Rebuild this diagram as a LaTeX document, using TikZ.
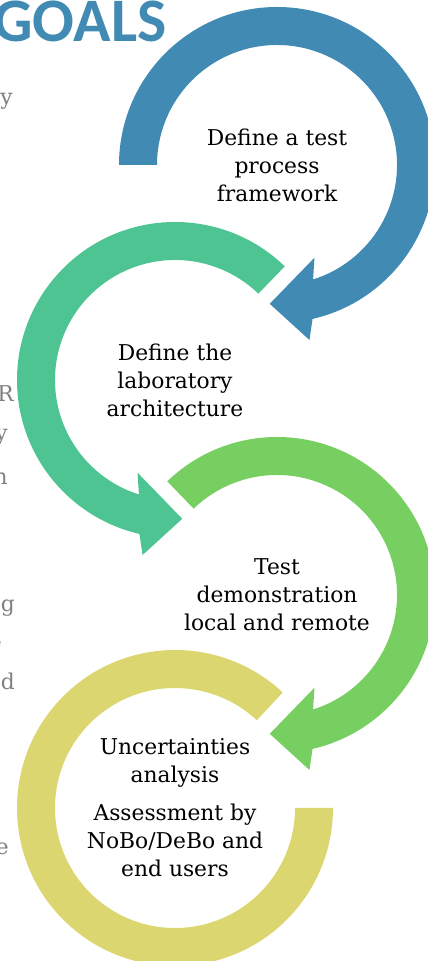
\documentclass[tikz,border=0pt]{standalone}
\usepackage{fontspec}
\usepackage{xcolor}
\usepackage{tikz}

\setmainfont{DejaVu Serif}
\newfontfamily\headfont{Carlito}

\definecolor{ringblue}{RGB}{65,138,179}
\definecolor{ringteal}{RGB}{77,196,146}
\definecolor{ringgreen}{RGB}{120,207,97}
\definecolor{ringyellow}{RGB}{219,214,112}
\definecolor{sidegray}{RGB}{128,128,128}

\tikzset{
    stagetext/.style={align=center, inner sep=0pt, font=\fontsize{15.5}{19.9}\selectfont},
    sidetext/.style={anchor=base east, inner sep=0pt, text=sidegray, font=\fontsize{15.5}{19.9}\selectfont}
}

\begin{document}
\begin{tikzpicture}[x=0.25mm, y=0.25mm]
            \useasboundingbox (0,0) rectangle (428,961);
            \clip (0,0) rectangle (428,961);

            % ring centres
            \coordinate (ca) at (277,796);
            \coordinate (cb) at (175,581);
            \coordinate (cc) at (277,366);
            \coordinate (cd) at (175,153);

            % first ring, clockwise, head at the bottom
            \fill[ringblue, shift={(ca)}] (180:158) arc[start angle=180, end angle=-77, radius=158]
                -- (-79.5:178) -- (-93:139) -- (-68:100) -- (-72.5:120)
                arc[start angle=-72.5, end angle=180, radius=120] -- cycle;
            % second ring, counter clockwise
            \fill[ringteal, shift={(cb)}] (46:158) arc[start angle=46, end angle=257, radius=158]
                -- (259.5:178) -- (273:139) -- (248:100) -- (252.5:120)
                arc[start angle=252.5, end angle=46, radius=120] -- cycle;
            % third ring, clockwise
            \fill[ringgreen, shift={(cc)}] (134:158) arc[start angle=134, end angle=-77, radius=158]
                -- (-79.5:178) -- (-93:139) -- (-68:100) -- (-72.5:120)
                arc[start angle=-72.5, end angle=134, radius=120] -- cycle;
            % last ring, no head
            \fill[ringyellow, shift={(cd)}] (47:158) arc[start angle=47, end angle=360, radius=158]
                -- (0:120) arc[start angle=360, end angle=47, radius=120] -- cycle;

            \node[stagetext] (framework) at (ca) {Define a test\\process\\framework};
            \node[stagetext] (architecture) at (cb) {Define the\\laboratory\\architecture};
            \node[stagetext] (demo) at (cc) {Test\\demonstration\\local and remote};
            \node[stagetext] (assessment) at (cd) {Uncertainties\\analysis\\[7pt]Assessment by\\NoBo/DeBo and\\end users};

            \node[anchor=base east, inner sep=0pt, text=ringblue, font=\headfont\bfseries\fontsize{44}{44}\selectfont] (goals) at (167,919) {GOALS};

            % ends of the lines behind
            \node[sidetext] (s1) at (13,856) {y};
            \node[sidetext] (s2) at (14,559) {R};
            \node[sidetext] (s3) at (8,520) {y};
            \node[sidetext] (s4) at (8,476) {n};
            \node[sidetext] (s5) at (15,349) {g};
            \node[sidetext] (s6) at (2,311) {e};
            \node[sidetext] (s7) at (15,271) {d};
            \node[sidetext] (s8) at (9,106) {e};
        \end{tikzpicture}
\end{document}
